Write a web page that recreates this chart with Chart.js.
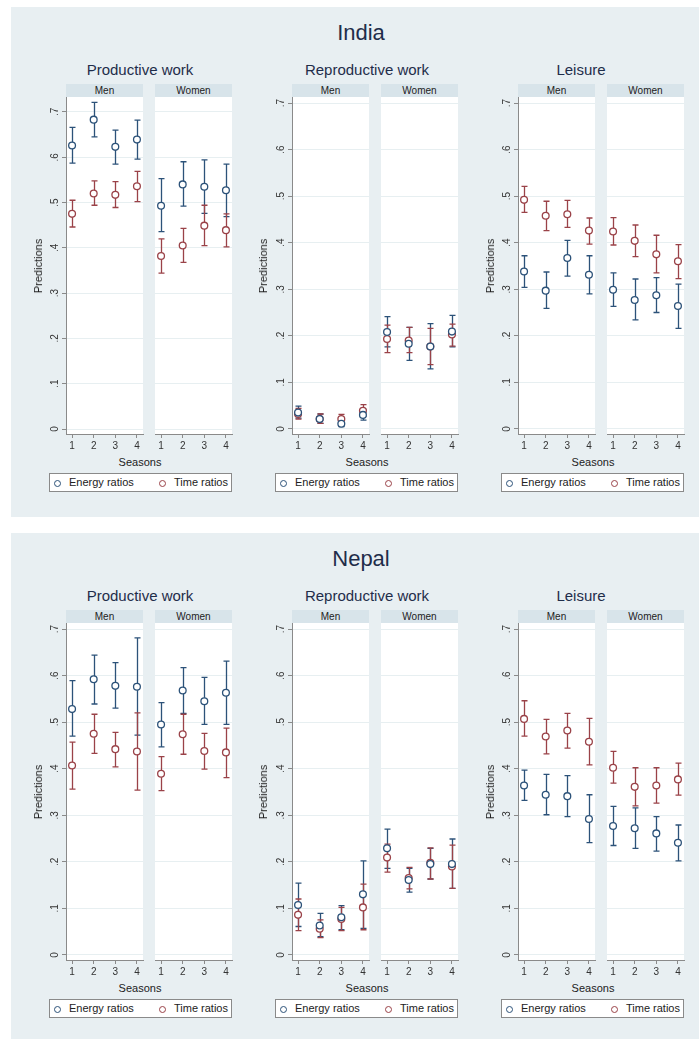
<!DOCTYPE html>
<html>
<head>
<meta charset="utf-8">
<script src="https://cdn.jsdelivr.net/npm/chart.js@4/dist/chart.umd.min.js"></script>
<style>
  body { margin: 0; background: #fff; font-family: "Liberation Sans", Arial, sans-serif; }
  #wrap { position: relative; width: 699px; height: 1039px; overflow: hidden; }
  .abs { position: absolute; }
  .panel { position: absolute; left: 11px; width: 688px; background: #e8eff2; }
  .ctitle { font-size: 22px; color: #1f2d4a; transform: translate(-50%, -50%); white-space: nowrap; }
  .atitle { font-size: 15px; color: #1f2d4a; transform: translate(-50%, -50%); white-space: nowrap; }
  .strip { background: #d8e4ea; height: 13px; font-size: 10px; line-height: 13px; text-align: center; color: #222; }
  .ylab { font-size: 11px; color: #222; transform: translate(-50%, -50%) rotate(-90deg); white-space: nowrap; }
  .xlab { font-size: 11px; color: #222; transform: translate(-50%, -50%); white-space: nowrap; }
  .legend { background: #fff; border: 1px solid #8a8a8a; box-sizing: border-box; height: 19px; font-size: 11px; color: #222; }
  .legend span { position: absolute; top: 2px; white-space: nowrap; }
  .legend i { position: absolute; top: 6px; width: 5px; height: 5px; border-radius: 50%; border: 1.2px solid; }
</style>
</head>
<body>
<div id="wrap"></div>
<script>
// seasons on the x axis and the y tick values
const seasons = [1, 2, 3, 4];
const yTicks = [0, 0.1, 0.2, 0.3, 0.4, 0.5, 0.6, 0.7];

const countries = ['India', 'Nepal'];
const activities = ['Productive work', 'Reproductive work', 'Leisure'];
const sexes = ['Men', 'Women'];
const seriesNames = ['Energy ratios', 'Time ratios'];

// each entry: [prediction, lower CI, upper CI] for seasons 1..4
const indProdMenEnergy   = [[.626, .587, .666], [.683, .645, .721], [.623, .585, .660], [.639, .596, .682]];
const indProdMenTime     = [[.475, .446, .505], [.520, .494, .548], [.517, .489, .546], [.536, .502, .569]];
const indProdWomenEnergy = [[.493, .436, .553], [.540, .492, .590], [.535, .476, .594], [.527, .469, .585]];
const indProdWomenTime   = [[.382, .344, .420], [.405, .368, .443], [.449, .405, .494], [.439, .402, .475]];

const indReproMenEnergy   = [[.035, .023, .049], [.021, .012, .032], [.011, .005, .019], [.030, .019, .042]];
const indReproMenTime     = [[.032, .021, .044], [.021, .012, .032], [.021, .011, .031], [.039, .027, .052]];
const indReproWomenEnergy = [[.208, .176, .241], [.183, .147, .218], [.177, .129, .226], [.209, .176, .244]];
const indReproWomenTime   = [[.193, .164, .223], [.190, .164, .218], [.177, .138, .216], [.203, .178, .225]];

const indLeisMenEnergy   = [[.338, .304, .372], [.297, .259, .337], [.367, .328, .405], [.331, .290, .372]];
const indLeisMenTime     = [[.492, .465, .521], [.458, .426, .489], [.461, .433, .491], [.426, .397, .453]];
const indLeisWomenEnergy = [[.299, .263, .335], [.277, .234, .322], [.287, .250, .325], [.264, .216, .311]];
const indLeisWomenTime   = [[.424, .395, .454], [.404, .370, .438], [.375, .335, .416], [.360, .323, .396]];

const npProdMenEnergy   = [[.528, .470, .589], [.592, .539, .644], [.578, .530, .628], [.576, .472, .681]];
const npProdMenTime     = [[.407, .356, .457], [.475, .433, .517], [.442, .404, .478], [.437, .354, .520]];
const npProdWomenEnergy = [[.495, .447, .542], [.568, .519, .617], [.545, .495, .596], [.563, .495, .631]];
const npProdWomenTime   = [[.389, .353, .426], [.474, .431, .517], [.438, .399, .476], [.435, .381, .487]];

const npReproMenEnergy   = [[.107, .061, .154], [.063, .039, .089], [.081, .054, .106], [.130, .057, .202]];
const npReproMenTime     = [[.086, .052, .120], [.056, .037, .075], [.077, .052, .102], [.102, .054, .152]];
const npReproWomenEnergy = [[.229, .186, .270], [.161, .135, .186], [.195, .163, .229], [.195, .143, .249]];
const npReproWomenTime   = [[.209, .178, .238], [.165, .142, .188], [.198, .163, .230], [.190, .143, .236]];

const npLeisMenEnergy   = [[.364, .332, .397], [.344, .301, .388], [.341, .297, .385], [.292, .241, .344]];
const npLeisMenTime     = [[.507, .470, .546], [.469, .432, .506], [.482, .444, .519], [.458, .408, .508]];
const npLeisWomenEnergy = [[.277, .235, .319], [.272, .229, .316], [.261, .223, .297], [.241, .202, .279]];
const npLeisWomenTime   = [[.402, .369, .437], [.361, .320, .402], [.364, .326, .402], [.377, .343, .412]];

// [country][activity][sex] -> [energy, time]
const table = [
  [
    [[indProdMenEnergy, indProdMenTime], [indProdWomenEnergy, indProdWomenTime]],
    [[indReproMenEnergy, indReproMenTime], [indReproWomenEnergy, indReproWomenTime]],
    [[indLeisMenEnergy, indLeisMenTime], [indLeisWomenEnergy, indLeisWomenTime]]
  ],
  [
    [[npProdMenEnergy, npProdMenTime], [npProdWomenEnergy, npProdWomenTime]],
    [[npReproMenEnergy, npReproMenTime], [npReproWomenEnergy, npReproWomenTime]],
    [[npLeisMenEnergy, npLeisMenTime], [npLeisWomenEnergy, npLeisWomenTime]]
  ]
];

const colors = ['#2c5279', '#9a4248'];
const yMax = [[0.733, 0.713, 0.713], [0.713, 0.713, 0.713]];
const yLabel = v => v === 0 ? '0' : '.' + Math.round(v * 10);

Chart.defaults.font.family = '"Liberation Sans", Arial, sans-serif';
Chart.defaults.color = '#333';

const whiteArea = {
  id: 'whiteArea',
  beforeDraw(chart) {
    const { ctx, chartArea: a } = chart;
    ctx.save();
    ctx.fillStyle = '#fff';
    ctx.fillRect(a.left, a.top, a.right - a.left, a.bottom - a.top);
    ctx.restore();
  }
};

const errorBars = {
  id: 'errorBars',
  beforeDatasetsDraw(chart) {
    const { ctx, scales: { x, y } } = chart;
    chart.data.datasets.forEach(ds => {
      ctx.save();
      ctx.strokeStyle = ds.borderColor;
      ctx.lineWidth = 1.3;
      ds.data.forEach(p => {
        const px = Math.round(x.getPixelForValue(p.x)) + 0.5;
        const lo = y.getPixelForValue(p.lo), hi = y.getPixelForValue(p.hi);
        ctx.beginPath();
        ctx.moveTo(px, lo); ctx.lineTo(px, hi);
        ctx.moveTo(px - 3, lo); ctx.lineTo(px + 3, lo);
        ctx.moveTo(px - 3, hi); ctx.lineTo(px + 3, hi);
        ctx.stroke();
      });
      ctx.restore();
    });
  }
};

// Stata style vertical tick labels on the y axis (reading bottom to top)
const rotatedYTicks = {
  id: 'rotatedYTicks',
  afterDraw(chart, args, opts) {
    if (!opts.show) return;
    const { ctx, scales: { y } } = chart;
    ctx.save();
    ctx.fillStyle = '#333';
    ctx.font = '10px "Liberation Sans", Arial, sans-serif';
    ctx.textAlign = 'center';
    ctx.textBaseline = 'middle';
    yTicks.forEach(v => {
      ctx.save();
      ctx.translate(chart.chartArea.left - 11, y.getPixelForValue(v));
      ctx.rotate(-Math.PI / 2);
      ctx.fillText(yLabel(v), 0, 0);
      ctx.restore();
    });
    ctx.restore();
  }
};

const wrap = document.getElementById('wrap');
function el(cls, css, text) {
  const d = document.createElement('div');
  d.className = cls;
  Object.assign(d.style, css);
  if (text) d.textContent = text;
  wrap.appendChild(d);
  return d;
}

const plotH = 337, plotW = 77, yAxisW = 30, xAxisH = 20, padTop = 10, padSide = 6;
const panelTop = [7, 533], panelH = [510, 506];
const titleX = [140, 367, 581], seasonsX = [140, 367, 593], predX = [38, 263, 490], legendX = [49, 275, 501];

function makeFacet(c, a, s, left, top) {
  const men = s === 0;
  const canvas = document.createElement('canvas');
  const w = (men ? yAxisW : padSide) + plotW + padSide;
  const h = padTop + plotH + xAxisH;
  canvas.width = w; canvas.height = h;
  canvas.className = 'abs';
  Object.assign(canvas.style, { left: (left - (men ? yAxisW : padSide)) + 'px', top: (top - padTop) + 'px', width: w + 'px', height: h + 'px' });
  wrap.appendChild(canvas);

  const datasets = table[c][a][s].map((rows, k) => ({
    label: seriesNames[k],
    data: rows.map((r, i) => ({ x: seasons[i], y: r[0], lo: r[1], hi: r[2] })),
    borderColor: colors[k],
    backgroundColor: '#fff',
    pointRadius: 3.4,
    pointBorderWidth: 1.3,
    showLine: false
  }));

  new Chart(canvas, {
    type: 'scatter',
    data: { datasets },
    options: {
      responsive: false,
      devicePixelRatio: 1,
      animation: false,
      events: [],
      layout: { padding: { top: padTop, right: padSide, left: men ? 0 : padSide, bottom: 0 } },
      plugins: { legend: { display: false }, tooltip: { enabled: false }, rotatedYTicks: { show: men } },
      scales: {
        x: {
          type: 'linear', min: 0.72, max: 4.28,
          afterBuildTicks: sc => { sc.ticks = seasons.map(v => ({ value: v })); },
          afterFit: sc => { sc.height = xAxisH; },
          ticks: { font: { size: 10 }, color: '#333', padding: 2, maxRotation: 0 },
          grid: { drawOnChartArea: false, drawTicks: true, tickLength: 4, tickColor: '#8a8a8a' },
          border: { display: true, color: '#8a8a8a', width: 1 }
        },
        y: {
          type: 'linear', min: -0.011, max: yMax[c][a],
          afterBuildTicks: sc => { sc.ticks = yTicks.map(v => ({ value: v })); },
          afterFit: sc => { sc.width = men ? yAxisW : 0; },
          ticks: { display: false },
          grid: { color: '#e7eff1', lineWidth: 1, drawTicks: men, tickLength: 4, tickColor: '#8a8a8a' },
          border: { display: men, color: '#8a8a8a', width: 1 }
        }
      }
    },
    plugins: [whiteArea, errorBars, rotatedYTicks]
  });
}

countries.forEach((country, c) => {
  const off = 526 * c;
  el('panel', { top: panelTop[c] + 'px', height: panelH[c] + 'px' });
  el('abs ctitle', { left: '361px', top: (33 + off) + 'px' }, country);
  const plotTop = 97 + off;
  activities.forEach((act, a) => {
    const menLeft = 66 + 226 * a;
    el('abs atitle', { left: titleX[a] + 'px', top: (69 + off) + 'px' }, act);
    sexes.forEach((sex, s) => {
      const left = menLeft + 89 * s;
      el('abs strip', { left: left + 'px', top: (plotTop - 13) + 'px', width: plotW + 'px' }, sex);
      makeFacet(c, a, s, left, plotTop);
    });
    el('abs ylab', { left: predX[a] + 'px', top: (plotTop + plotH / 2) + 'px' }, 'Predictions');
    el('abs xlab', { left: seasonsX[a] + 'px', top: (462 + off) + 'px' }, 'Seasons');
    const lg = el('abs legend', { left: legendX[a] + 'px', top: (473 + off) + 'px', width: '183px' });
    seriesNames.forEach((name, k) => {
      const mk = document.createElement('i');
      Object.assign(mk.style, { left: (k ? 109 : 4) + 'px', borderColor: colors[k] });
      lg.appendChild(mk);
      const sp = document.createElement('span');
      sp.style.left = (k ? 124 : 19) + 'px';
      sp.textContent = name;
      lg.appendChild(sp);
    });
  });
});
</script>
</body>
</html>
